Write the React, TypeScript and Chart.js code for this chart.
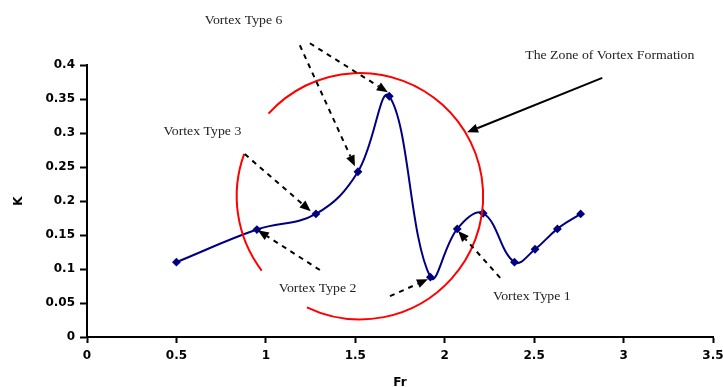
import React, { useEffect, useRef } from "react";
import { Chart, registerables } from "chart.js";

Chart.register(...registerables);

// Series data (Fr, K)
const frValues = [0.5, 0.95, 1.28, 1.515, 1.69, 1.92, 2.07, 2.215, 2.39, 2.505, 2.63, 2.76];
const kValues = [0.11, 0.158, 0.181, 0.243, 0.354, 0.088, 0.159, 0.182, 0.11, 0.129, 0.159, 0.181];

// Axis ranges / ticks
const xTicks = { min: 0, max: 3.5, step: 0.5 };
const yTicks = { min: 0, max: 0.4, step: 0.05 };

// Annotation texts (data coordinates of left/middle anchor)
const labelTexts = ["Vortex Type 6", "Vortex Type 3", "Vortex Type 2", "Vortex Type 1", "The Zone of Vortex Formation"];
const labelX = [0.658, 0.428, 1.072, 2.27, 2.45];
const labelY = [0.465, 0.301, 0.0706, 0.0588, 0.413];

// Arrows: from (fx,fy) to (tx,ty) in data coords; dashed flag
const arrowFromX = [1.19, 1.246, 0.882, 1.302, 1.694, 2.31, 2.881];
const arrowFromY = [0.429, 0.432, 0.269, 0.0985, 0.06, 0.087, 0.381];
const arrowToX = [1.498, 1.682, 1.251, 0.955, 1.906, 2.075, 2.125];
const arrowToY = [0.251, 0.36, 0.185, 0.157, 0.085, 0.156, 0.301];
const arrowDashed = [true, true, true, true, true, true, false];

// Zone circle: centre (data), radius (in Fr units), drawn arcs in degrees
const zoneCenter = [1.526, 0.207];
const zoneRadiusFr = 0.689;
const zoneArcs = [
  [222.1, 475.5],
  [142.9, 200.1],
];

const fmt = (v: number) => String(parseFloat(Number(v).toFixed(2)));

const annotationPlugin = {
  id: "vortexAnnotations",
  afterDraw(chart: any) {
    const { ctx } = chart;
    const xs = chart.scales.x;
    const ys = chart.scales.y;
    const P = (x: number, y: number) => [xs.getPixelForValue(x), ys.getPixelForValue(y)];
    ctx.save();

    // circle
    const [cx, cy] = P(zoneCenter[0], zoneCenter[1]);
    const r = xs.getPixelForValue(zoneRadiusFr) - xs.getPixelForValue(0);
    ctx.strokeStyle = "#ff0000";
    ctx.lineWidth = 2;
    zoneArcs.forEach(([a0, a1]) => {
      ctx.beginPath();
      ctx.arc(cx, cy, r, (a0 * Math.PI) / 180, (a1 * Math.PI) / 180);
      ctx.stroke();
    });

    // arrows
    for (let i = 0; i < arrowFromX.length; i++) {
      const [x0, y0] = P(arrowFromX[i], arrowFromY[i]);
      const [x1, y1] = P(arrowToX[i], arrowToY[i]);
      const dx = x1 - x0;
      const dy = y1 - y0;
      const len = Math.hypot(dx, dy);
      const ux = dx / len;
      const uy = dy / len;
      const headLen = 11;
      const headW = 4.5;
      const bx = x1 - ux * headLen;
      const by = y1 - uy * headLen;
      ctx.strokeStyle = "#000";
      ctx.fillStyle = "#000";
      ctx.lineWidth = 2;
      ctx.setLineDash(arrowDashed[i] ? [5, 5] : []);
      ctx.beginPath();
      ctx.moveTo(x0, y0);
      ctx.lineTo(bx, by);
      ctx.stroke();
      ctx.setLineDash([]);
      ctx.beginPath();
      ctx.moveTo(x1, y1);
      ctx.lineTo(bx - uy * headW, by + ux * headW);
      ctx.lineTo(bx + uy * headW, by - ux * headW);
      ctx.closePath();
      ctx.fill();
    }

    // labels (slightly stretched horizontally like the source)
    ctx.fillStyle = "#222";
    ctx.font = "12px 'Liberation Serif', 'Times New Roman', serif";
    ctx.textAlign = "left";
    ctx.textBaseline = "middle";
    labelTexts.forEach((t, i) => {
      const [lx, ly] = P(labelX[i], labelY[i]);
      ctx.save();
      ctx.translate(lx, ly);
      ctx.scale(1.15, 1);
      ctx.fillText(t, 0, 0);
      ctx.restore();
    });
    ctx.restore();
  },
};

export default function App() {
  const ref = useRef<HTMLCanvasElement>(null);
  useEffect(() => {
    if (!ref.current) return;
    const tickFont = { family: "'DejaVu Sans', sans-serif", size: 12, weight: "bold" as const };
    const chart = new Chart(ref.current, {
      type: "line",
      data: {
        datasets: [
          {
            data: frValues.map((x, i) => ({ x, y: kValues[i] })),
            borderColor: "#000080",
            backgroundColor: "#000080",
            borderWidth: 2,
            tension: 0.4,
            pointStyle: "rectRot",
            pointRadius: 3,
            pointBackgroundColor: "#000080",
            pointBorderColor: "#000080",
            fill: false,
          },
        ],
      },
      options: {
        responsive: false,
        animation: false,
        devicePixelRatio: 1,
        layout: { padding: { left: 10, right: 10, top: 65, bottom: 0 } },
        plugins: { legend: { display: false }, tooltip: { enabled: false } },
        scales: {
          x: {
            type: "linear",
            min: xTicks.min,
            max: xTicks.max,
            ticks: { stepSize: xTicks.step, color: "#000", font: tickFont, padding: 6, maxRotation: 0, callback: (v: any) => fmt(v) },
            grid: { drawOnChartArea: false, drawTicks: true, tickLength: 6, tickColor: "#000", tickWidth: 2 },
            border: { display: true, color: "#000", width: 2 },
            title: { display: true, text: "Fr", color: "#000", font: tickFont, padding: { top: 0, bottom: -3 } },
            afterFit: (s: any) => {
              s.height = 50;
              s.paddingRight = 0;
              s.paddingLeft = 0;
            },
          },
          y: {
            type: "linear",
            min: yTicks.min,
            max: yTicks.max,
            ticks: { stepSize: yTicks.step, color: "#000", font: tickFont, padding: 5, callback: (v: any) => fmt(v) },
            grid: { drawOnChartArea: false, drawTicks: true, tickLength: 7, tickColor: "#000", tickWidth: 2 },
            border: { display: true, color: "#000", width: 2 },
            title: { display: true, text: "K", color: "#000", font: tickFont, padding: { top: 2, bottom: 0 } },
            afterFit: (s: any) => {
              s.width = 77;
            },
          },
        },
      },
      plugins: [annotationPlugin],
    });
    return () => chart.destroy();
  }, []);
  return (
    <div style={{ position: "fixed", left: 0, top: 0, width: 723, height: 387, background: "#fff" }}>
      <canvas ref={ref} width={723} height={387} />
    </div>
  );
}
